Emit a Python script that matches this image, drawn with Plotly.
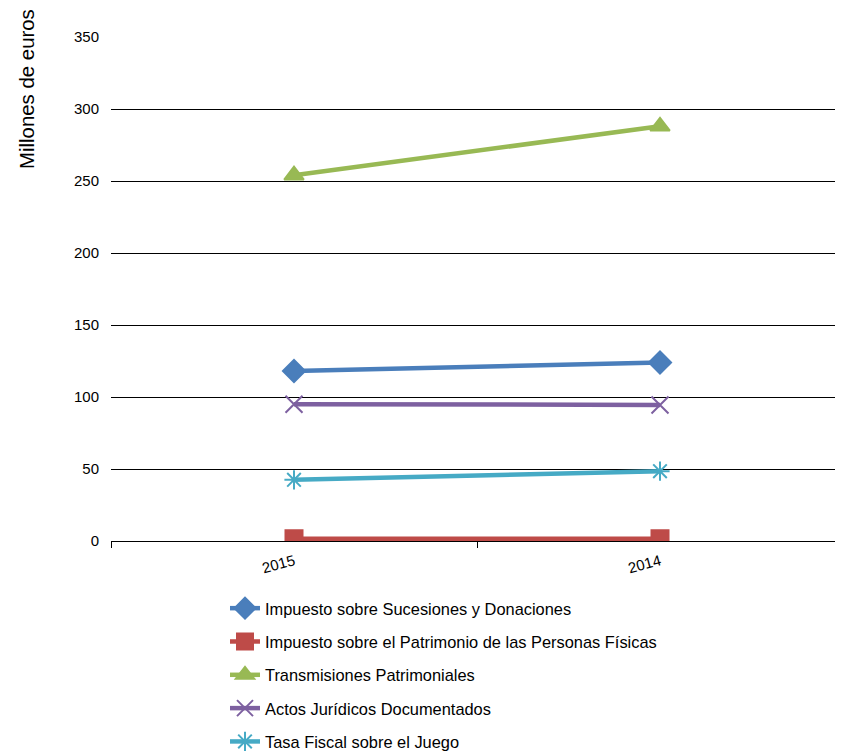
import plotly.graph_objects as go

years = ["2015", "2014"]
series_names = [
    "Impuesto sobre Sucesiones y Donaciones",
    "Impuesto sobre el Patrimonio de las Personas Físicas",
    "Transmisiones Patrimoniales",
    "Actos Jurídicos Documentados",
    "Tasa Fiscal sobre el Juego",
]
sucesiones = [118, 124]
patrimonio = [1.5, 1.5]
transmisiones = [254, 288]
actos = [95, 94.5]
juego = [42.5, 48.5]
y_ticks = [0, 50, 100, 150, 200, 250, 300, 350]

colors = ["#4a7ebb", "#be4b48", "#98b954", "#7d60a0", "#46aac5"]
symbols = ["diamond", "square", "triangle-up", "x-thin-open", "asterisk-open"]
sizes = [17, 17, 17, 17, 16]
values = [sucesiones, patrimonio, transmisiones, actos, juego]

fig = go.Figure()
for i, (name, vals) in enumerate(zip(series_names, values)):
    fig.add_trace(go.Scatter(
        x=years, y=vals, name=name, mode="lines+markers",
        legendgroup=str(i),
        line=dict(color=colors[i], width=4.5),
        marker=dict(symbol=symbols[i], size=sizes[i], color=colors[i],
                    line=dict(color=colors[i], width=2)),
    ))

FONT = "Liberation Sans, Arial, sans-serif"
PW, PH = 732, 504
H = 745
fig.update_layout(
    width=103 + PW, height=H,
    margin=dict(l=103, r=0, t=29, b=H - 29 - PH, autoexpand=False),
    paper_bgcolor="white", plot_bgcolor="white",
    font=dict(family=FONT, size=15, color="black"),
    showlegend=True,
    legend=dict(x=114 / PW, y=-50 / PH, xanchor="left", yanchor="top",
                font=dict(size=16.4, family=FONT), tracegroupgap=9, traceorder="grouped"),
    xaxis=dict(type="category", range=[-0.5, 1.5], showgrid=False, showline=True,
               linecolor="black", linewidth=1, ticks="outside", tickson="boundaries",
               ticklen=6, tickcolor="black", tickangle=-15, tickfont=dict(size=15),
               ticklabelstandoff=5, zeroline=False),
    yaxis=dict(range=[0, 350], tickvals=y_ticks, showgrid=True, gridcolor="black",
               gridwidth=1, zeroline=False, showline=False, ticks="",
               ticklabelstandoff=11, tickfont=dict(size=15)),
    annotations=[dict(text="Millones de euros", textangle=-90, xref="paper", yref="paper",
                      x=-84 / PW, y=1 + 30 / PH, xanchor="center", yanchor="top",
                      showarrow=False, font=dict(size=20.4, family=FONT))],
)
fig.write_html("out.html")
